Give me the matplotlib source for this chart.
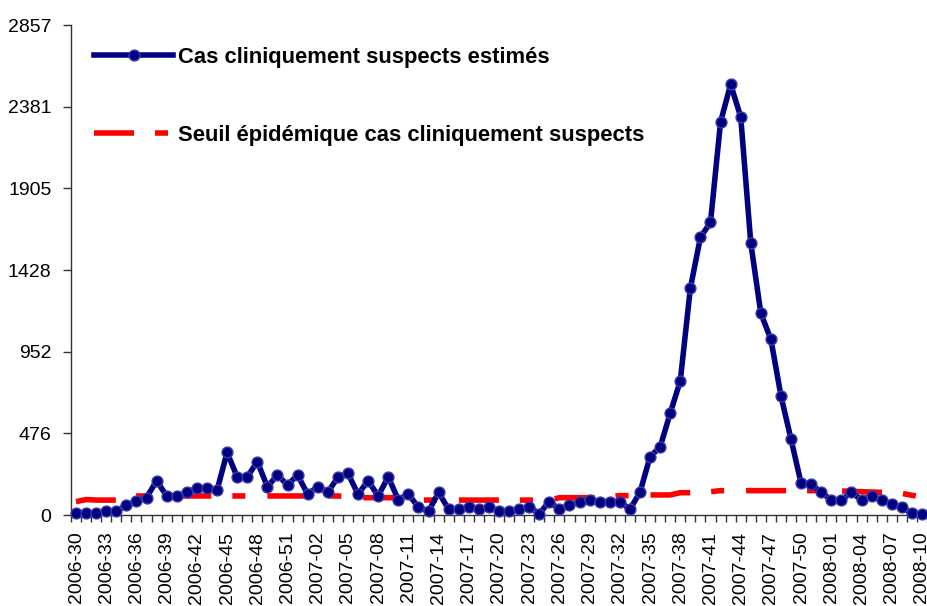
import numpy as np
import matplotlib
matplotlib.use("Agg")
import matplotlib.pyplot as plt

plt.rcParams['font.family'] = ['Liberation Sans', 'DejaVu Sans']
plt.rcParams['lines.scale_dashes'] = False

# weeks 2006-30 .. 2008-10
weeks = ([f"2006-{w:02d}" for w in range(30, 53)]
         + [f"2007-{w:02d}" for w in range(1, 53)]
         + [f"2008-{w:02d}" for w in range(1, 11)])

cas_estimes = [10, 10, 10, 23, 23, 56, 80, 101, 200, 111,
               111, 132, 155, 155, 144, 365, 222, 222, 311, 165,
               233, 175, 233, 121, 165, 132, 220, 243, 121, 200,
               111, 222, 89, 122, 45, 21, 132, 33, 33, 47,
               33, 47, 21, 21, 33, 47, 8, 78, 33, 56,
               78, 89, 78, 78, 78, 33, 132, 340, 396, 594,
               781, 1322, 1619, 1706, 2291, 2511, 2322, 1586, 1176, 1024,
               694, 441, 185, 179, 132, 87, 87, 132, 87, 113,
               87, 64, 45, 10, 4]

seuil = ([78, 90, 87, 87, 87, 98] + [111] * 21 + [106] + [101] * 6
         + [87] * 14 + [101] * 5 + [108] + [113] * 3 + [117] * 3
         + [130] * 3 + [136] + [142] * 12
         + [140, 138, 136, 134, 132, 130, 126, 115, 105])

yticks = [0, 476, 952, 1428, 1905, 2381, 2857]

fig = plt.figure(figsize=(9.27, 6.06), dpi=100)
ax = fig.add_axes([71 / 927, 91 / 606, 1 - 71 / 927, 490 / 606])

x = np.arange(len(weeks))
ax.plot(x, seuil, color='#ff0000', lw=4.0,
        linestyle=(0, (28.8, 15.1, 9.4, 15.8)),
        label="Seuil épidémique cas cliniquement suspects", zorder=2)
ax.plot(x, cas_estimes, color='#000080', lw=4.0, marker='o', markersize=7.8,
        markerfacecolor='#000080', markeredgecolor='#3a3aa8', markeredgewidth=1.0,
        label="Cas cliniquement suspects estimés", clip_on=False, zorder=3)

ax.set_xlim(-0.4, 84.36)
ax.set_ylim(0, 2857)
ax.set_yticks(yticks)
ax.set_yticklabels([str(v) for v in yticks], fontsize=14)

ax.set_xticks(x[::3])
ax.set_xticklabels(weeks[::3], rotation=90, fontsize=14)
ax.set_xticks(np.arange(-0.5, len(weeks), 1), minor=True)
ax.tick_params(axis='x', which='major', length=0, pad=12)
ax.tick_params(axis='x', which='minor', length=5, width=1, color='#333333')
ax.tick_params(axis='y', length=6, width=1, color='#333333', pad=8)

for side in ['top', 'right']:
    ax.spines[side].set_visible(False)
for side in ['left', 'bottom']:
    ax.spines[side].set_color('#333333')
    ax.spines[side].set_linewidth(1.0)

h, l = ax.get_legend_handles_labels()
leg = ax.legend(h[::-1], l[::-1], loc='upper left', bbox_to_anchor=(0.027, 0.955),
                frameon=False, handlelength=3.6, handletextpad=0.23,
                labelspacing=2.6, numpoints=1, borderpad=0, borderaxespad=0,
                prop={'weight': 'bold', 'size': 15.8})

fig.savefig("out.png", dpi=100)
